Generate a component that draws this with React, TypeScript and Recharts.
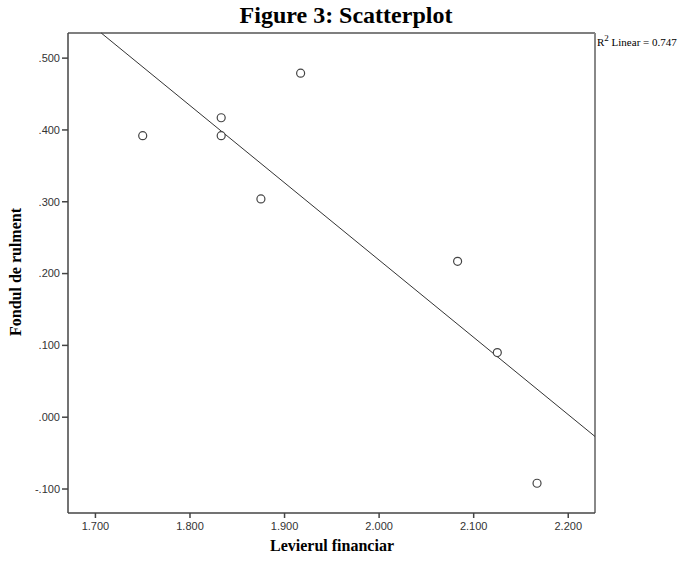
import { ReferenceLine, Scatter, ScatterChart, XAxis, YAxis } from "recharts";

const leverage = [1.75, 1.833, 1.833, 1.875, 1.917, 2.083, 2.125, 2.167];
const workingCapital = [0.392, 0.417, 0.392, 0.304, 0.479, 0.217, 0.09, -0.092];
const xTicks = [1.7, 1.8, 1.9, 2.0, 2.1, 2.2];
const yTicks = [-0.1, 0, 0.1, 0.2, 0.3, 0.4, 0.5];
const xDomain = [1.671, 2.2283];
const yDomain = [-0.1334, 0.535];

const points = leverage.map((x, i) => ({ x, y: workingCapital[i] }));

// least squares fit, like the SPSS "R2 Linear" line
const n = points.length;
const mx = leverage.reduce((a, b) => a + b, 0) / n;
const my = workingCapital.reduce((a, b) => a + b, 0) / n;
let sxy = 0;
let sxx = 0;
points.forEach((p) => {
  sxy += (p.x - mx) * (p.y - my);
  sxx += (p.x - mx) * (p.x - mx);
});
const slope = sxy / sxx;
const intercept = my - slope * mx;
const fitStart = { x: (yDomain[1] - intercept) / slope, y: yDomain[1] };
const fitEnd = { x: xDomain[1], y: intercept + slope * xDomain[1] };

const serif = "'Liberation Serif', 'Times New Roman', serif";
const tickStyle = { fontSize: 11, fill: "#333", stroke: "none", fontFamily: "'Liberation Sans', Arial, sans-serif" };
const fmtY = (v: number) => v.toFixed(3).replace(/^(-?)0\./, "$1.");

function Ring(props: any) {
  const { cx, cy } = props;
  return <circle cx={cx} cy={cy} r={4} fill="#fff" stroke="#444" strokeWidth={1.2} />;
}

export default function App() {
  return (
    <div style={{ position: "absolute", left: 0, top: 0, width: 692, height: 565, background: "#fff" }}>
      <ScatterChart width={692} height={565} margin={{ top: 33, right: 97, bottom: 22, left: 0 }}>
        <XAxis
          type="number"
          dataKey="x"
          domain={xDomain}
          ticks={xTicks}
          allowDataOverflow
          height={30}
          tickSize={5}
          tickMargin={4}
          tick={tickStyle}
          tickFormatter={(v: number) => v.toFixed(3)}
          stroke="#444"
          strokeWidth={1.5}
        />
        <YAxis
          type="number"
          dataKey="y"
          domain={yDomain}
          ticks={yTicks}
          allowDataOverflow
          width={68}
          tickSize={6}
          tickMargin={2}
          tick={tickStyle}
          tickFormatter={fmtY}
          stroke="#444"
          strokeWidth={1.5}
        />
        {/* frame: top and right edges */}
        <ReferenceLine y={yDomain[1]} stroke="#555" strokeWidth={1.5} />
        <ReferenceLine x={xDomain[1]} stroke="#888" strokeWidth={2} />
        <ReferenceLine segment={[fitStart, fitEnd]} stroke="#333" strokeWidth={1} />
        <Scatter data={points} shape={<Ring />} isAnimationActive={false} />
      </ScatterChart>
      <div
        style={{
          position: "absolute",
          left: 0,
          width: 692,
          top: 1,
          textAlign: "center",
          fontFamily: serif,
          fontWeight: "bold",
          fontSize: 24,
          lineHeight: "28px",
        }}
      >
        Figure 3: Scatterplot
      </div>
      <div
        style={{
          position: "absolute",
          left: 597,
          top: 33,
          fontFamily: serif,
          fontSize: 11,
          whiteSpace: "nowrap",
        }}
      >
        R<sup style={{ fontSize: 9 }}>2</sup> Linear = 0.747
      </div>
      <div
        style={{
          position: "absolute",
          left: 0,
          width: 664,
          top: 537,
          textAlign: "center",
          fontFamily: serif,
          fontWeight: "bold",
          fontSize: 16,
        }}
      >
        Levierul financiar
      </div>
      <div
        style={{
          position: "absolute",
          left: 16,
          top: 272,
          transform: "translate(-50%, -50%) rotate(-90deg)",
          fontFamily: serif,
          fontWeight: "bold",
          fontSize: 16,
          whiteSpace: "nowrap",
        }}
      >
        Fondul de rulment
      </div>
    </div>
  );
}
